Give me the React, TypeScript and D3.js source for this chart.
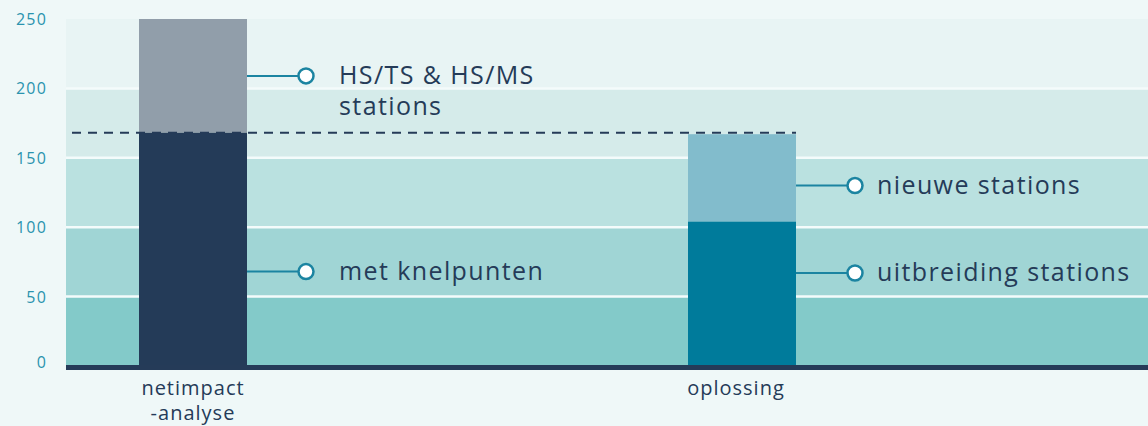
import React from 'react'
import { scaleLinear, scalePoint } from 'd3'

// categories and values
const categories = ['netimpact-analyse', 'oplossing']
const categoryLines = [['netimpact', '-analyse'], ['oplossing']]
const lowerValues = [168, 104]
const upperValues = [250, 167]
const lowerLabels = [['met knelpunten'], ['uitbreiding stations']]
const upperLabels = [['HS/TS & HS/MS', 'stations'], ['nieuwe stations']]
const lowerMarks = [68, 67]
const upperMarks = [209, 130]
const threshold = 168
const yTicks = [0, 50, 100, 150, 200, 250]

const bandColors = ['#83cac9', '#a0d5d5', '#bae1e0', '#d5ebea', '#e8f4f4']
const lowerColors = ['#243b58', '#007b9b']
const upperColors = ['#919eaa', '#82bccc']
const navy = '#253b58'
const teal = '#1b84a1'

export default function App() {
  const W = 1148, H = 426
  const left = 66, right = 1148
  const y = scaleLinear().domain([0, 250]).range([366, 19])
  const x = scalePoint().domain(categories).range([193, 742])
  const bw = 108
  const font = '"Open Sans", Lato, sans-serif'
  const textGap = [33, 22]

  return (
    <svg width={W} height={H} style={{ display: 'block', position: 'absolute', left: 0, top: 0 }}>
      <rect width={W} height={H} fill="#eff8f8" />
      {yTicks.slice(0, -1).map((t, i) => (
        <rect key={t} x={left} width={right - left} y={y(yTicks[i + 1])} height={y(t) - y(yTicks[i + 1])} fill={bandColors[i]} />
      ))}
      {yTicks.slice(1, -1).map(t => (
        <line key={t} x1={left} x2={right} y1={y(t)} y2={y(t)} stroke="#f4fbfb" strokeWidth={2.5} />
      ))}
      {yTicks.map(t => (
        <text key={t} x={47} y={y(t) + 6 - (t === 0 ? 4 : 0)} textAnchor="end" fontFamily={font} fontSize={16} letterSpacing={1.2} fill="#2a93ae">{t}</text>
      ))}

      {categories.map((c, i) => {
        const cx = x(c)!
        const x0 = cx - bw / 2
        return (
          <g key={c}>
            <rect x={x0} width={bw} y={y(upperValues[i])} height={y(lowerValues[i]) - y(upperValues[i])} fill={upperColors[i]} />
            <rect x={x0} width={bw} y={y(lowerValues[i])} height={y(0) - y(lowerValues[i])} fill={lowerColors[i]} />
          </g>
        )
      })}

      <line x1={72} x2={x(categories[1])! + bw / 2} y1={y(threshold)} y2={y(threshold)} stroke={navy} strokeWidth={2} strokeDasharray="9,7" />

      <rect x={left} width={right - left} y={y(0) - 1} height={5} fill={navy} />

      {categories.map((c, i) => {
        const x1 = x(c)! + bw / 2
        const cxc = x1 + 59
        const marks = [
          { v: upperMarks[i], lines: upperLabels[i] },
          { v: lowerMarks[i], lines: lowerLabels[i] },
        ]
        return (
          <g key={c}>
            {marks.map((m, j) => (
              <g key={j}>
                <line x1={x1} x2={cxc} y1={y(m.v)} y2={y(m.v)} stroke={teal} strokeWidth={2} />
                <circle cx={cxc} cy={y(m.v)} r={7.5} fill="#fff" stroke={teal} strokeWidth={2.5} />
                {m.lines.map((l, k) => (
                  <text key={k} x={cxc + textGap[i]} y={y(m.v) + 8 + k * 31} fontFamily={font} fontSize={25} letterSpacing={1.4} fill={navy}>{l}</text>
                ))}
              </g>
            ))}
            {categoryLines[i].map((l, k) => (
              <text key={k} x={x(c)! - (i === 1 ? 6 : 0)} y={395 + k * 25} textAnchor="middle" fontFamily={font} fontSize={20} letterSpacing={1} fill={navy}>{l}</text>
            ))}
          </g>
        )
      })}
    </svg>
  )
}
